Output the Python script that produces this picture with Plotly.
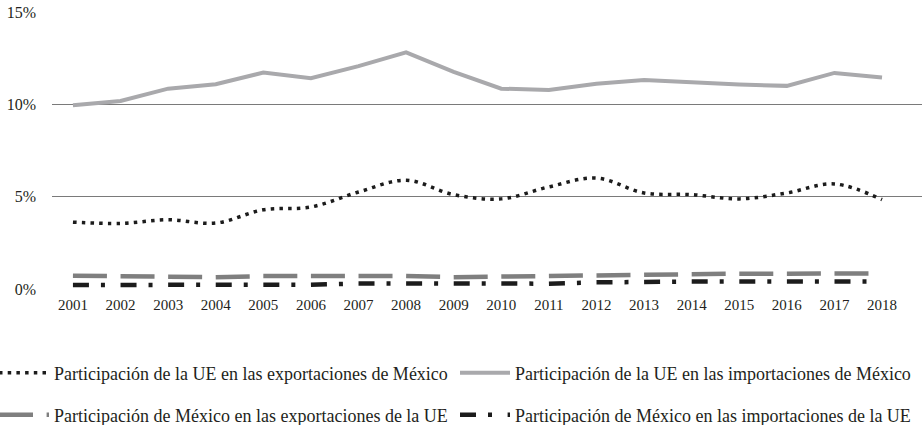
import plotly.graph_objects as go

years = list(range(2001, 2019))
ue_export_share_mx = [3.62, 3.55, 3.75, 3.57, 4.29, 4.44, 5.25, 5.89, 5.11, 4.88,
                      5.53, 6.01, 5.20, 5.11, 4.88, 5.20, 5.69, 4.84]
ue_import_share_mx = [9.95, 10.18, 10.85, 11.09, 11.72, 11.41, 12.07, 12.81, 11.76, 10.85,
                      10.78, 11.12, 11.32, 11.18, 11.07, 11.00, 11.70, 11.45]
mx_export_share_ue = [0.72, 0.70, 0.64, 0.64, 0.70, 0.71, 0.71, 0.70, 0.64, 0.68,
                      0.69, 0.76, 0.76, 0.78, 0.83, 0.83, 0.83, 0.84]
mx_import_share_ue = [0.22, 0.22, 0.22, 0.22, 0.21, 0.23, 0.30, 0.30, 0.27, 0.28,
                      0.29, 0.36, 0.40, 0.40, 0.40, 0.40, 0.40, 0.40]
y_ticks = [0, 5, 10, 15]
y_tick_labels = ["0%", "5%", "10%", "15%"]

names = [
    "Participación de la UE en las exportaciones de México",
    "Participación de la UE en las importaciones de México",
    "Participación de México en las exportaciones de la UE",
    "Participación de México en las importaciones de la UE",
]

FONT = "Liberation Serif"
fig = go.Figure()
fig.add_trace(go.Scatter(x=years, y=ue_export_share_mx, mode="lines", name=names[0],
                         line=dict(color="#1c1c1c", width=3.5, dash="3.5px,5.2px", shape="spline"),
                         legend="legend"))
fig.add_trace(go.Scatter(x=years, y=ue_import_share_mx, mode="lines", name=names[1],
                         line=dict(color="#a9a9ac", width=4), legend="legend"))
fig.add_trace(go.Scatter(x=years, y=mx_export_share_ue, mode="lines", name=names[2],
                         line=dict(color="#7f7f7f", width=4.5, dash="34px,13.6px"),
                         legend="legend2"))
fig.add_trace(go.Scatter(x=years, y=mx_import_share_ue, mode="lines", name=names[3],
                         line=dict(color="#1c1c1c", width=4.5, dash="16px,12px,4px,15.6px"),
                         legend="legend2"))

legend_common = dict(orientation="h", xanchor="left", yanchor="middle",
                     font=dict(family=FONT, size=18, color="#231f20"),
                     entrywidth=396, entrywidthmode="pixels", itemwidth=50,
                     bgcolor="rgba(0,0,0,0)", itemclick=False)

fig.update_layout(
    width=922, height=425,
    margin=dict(l=52, r=0, t=12, b=136, autoexpand=False),
    plot_bgcolor="white", paper_bgcolor="white",
    font=dict(family=FONT, size=15, color="#231f20"),
    showlegend=True,
    legend=dict(x=-58/870, y=(289-373)/277, **legend_common),
    legend2=dict(x=-58/870, y=(289-415)/277, **legend_common),
    xaxis=dict(range=[2000.56, 2018.84], tickvals=years, ticktext=[str(y) for y in years],
               showgrid=False, zeroline=False, showline=False, ticks="", ticklabelstandoff=5,
               tickfont=dict(family=FONT, size=15, color="#231f20")),
    yaxis=dict(range=[0, 15], tickvals=y_ticks, ticktext=y_tick_labels,
               showgrid=True, gridcolor="#7a7a7a", gridwidth=1.4,
               zeroline=False, showline=False, ticks="", ticklabelstandoff=15,
               tickfont=dict(family=FONT, size=16, color="#231f20")),
)

fig.write_html("out.html", config={"displayModeBar": False},
               post_script="document.body.style.margin='0';")
